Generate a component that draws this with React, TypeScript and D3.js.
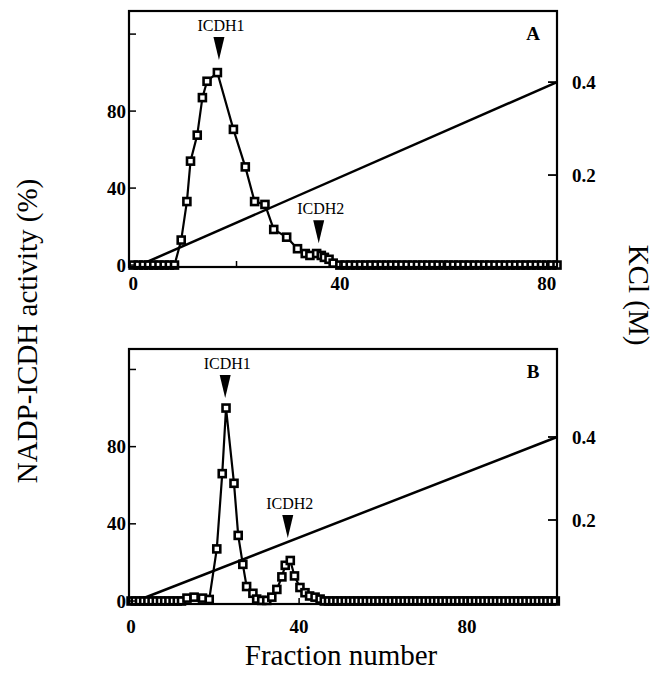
import React from "react";
import * as d3 from "d3";

// ---------- Data ----------
const A_FRACTION = [
  0, 1, 2, 3, 4, 5, 6, 7, 8,
  9.3, 10.4, 11.1, 12.4, 13.4, 14.3, 16.3, 19.4, 21.7, 23.5, 25.5, 27.2, 29.7, 31.8, 33.3, 34.2, 35.5, 36.4, 37, 37.9, 38.7,
  40, 41, 42, 43, 44, 45, 46, 47, 48, 49, 50, 51, 52, 53, 54, 55, 56, 57, 58, 59, 60, 61,
  62, 63, 64, 65, 66, 67, 68, 69, 70, 71, 72, 73, 74, 75, 76, 77, 78, 79, 80, 81, 82,
];
const A_ACTIVITY = [
  0, 0, 0, 0, 0, 0, 0, 0, 0,
  13, 33, 54, 67.5, 87, 95.5, 100, 70.5, 51, 33, 31.5, 18.5, 14.5, 8.5, 6, 5, 6, 5, 4, 3, 1,
  0, 0, 0, 0, 0, 0, 0, 0, 0, 0, 0, 0, 0, 0, 0, 0, 0, 0, 0, 0, 0, 0,
  0, 0, 0, 0, 0, 0, 0, 0, 0, 0, 0, 0, 0, 0, 0, 0, 0, 0, 0, 0, 0, 0, 0,
];
const A_GRADIENT_FRACTION = [0, 82];
const A_GRADIENT_KCL = [0, 0.4];

const B_FRACTION = [
  0, 1, 2, 3, 4, 5, 6, 7, 8, 9, 10, 11, 12,
  13.3, 15, 17, 18.6,
  20.4, 21.7, 22.6, 24.5, 25.5, 26.6, 27.5, 29, 29.9, 31.1, 32.3, 33.5, 34.7, 35.9, 36.7, 37.9, 38.9, 40.2, 41.4, 42.5, 43.8, 45,
  46, 47, 48, 49, 50, 51, 52, 53, 54, 55, 56, 57, 58, 59, 60, 61, 62, 63, 64, 65, 66, 67, 68, 69, 70, 71, 72, 73,
  74, 75, 76, 77, 78, 79, 80, 81, 82, 83, 84, 85, 86, 87, 88, 89, 90, 91, 92, 93, 94, 95, 96, 97, 98, 99, 100, 101,
];
const B_ACTIVITY = [
  0, 0, 0, 0, 0, 0, 0, 0, 0, 0, 0, 0, 0,
  1.5, 2, 1.5, 0.8,
  27, 66, 100, 61, 34, 19, 7.5, 4, 1, 0.3, 0.3, 2, 6, 12.5, 18.5, 21, 13, 7, 4.3, 2.6, 2, 1,
  0, 0, 0, 0, 0, 0, 0, 0, 0, 0, 0, 0, 0, 0, 0, 0, 0, 0, 0, 0, 0, 0, 0, 0, 0, 0, 0, 0,
  0, 0, 0, 0, 0, 0, 0, 0, 0, 0, 0, 0, 0, 0, 0, 0, 0, 0, 0, 0, 0, 0, 0, 0, 0, 0, 0, 0,
];
const B_GRADIENT_FRACTION = [0, 101.4];
const B_GRADIENT_KCL = [0, 0.4];

// peak markers: label, fraction, activity at arrow tip
const A_PEAK_LABELS = ["ICDH1", "ICDH2"];
const A_PEAK_FRACTION = [16.6, 35.9];
const A_PEAK_TIP = [106.5, 11.4];
const B_PEAK_LABELS = ["ICDH1", "ICDH2"];
const B_PEAK_FRACTION = [22.4, 37.3];
const B_PEAK_TIP = [105.2, 32.6];

const LEFT_TICKS = [0, 40, 80, 120];
const LEFT_TICK_LABELS = ["0", "40", "80", ""];
const RIGHT_TICKS = [0.2, 0.4];
const RIGHT_TICK_LABELS = ["0.2", "0.4"];
const X_TICK_LABELS = [0, 40, 80];
const A_X_TICKS = [20, 40, 60, 80];
const B_X_TICKS = [40, 80];

const SERIF = "Times New Roman";

type PanelProps = {
  letter: string;
  left: number; right: number; top: number; bottom: number;
  xDomain: [number, number];
  yDomain: [number, number];
  kDomain: [number, number];
  kRange: [number, number];
  fraction: number[]; activity: number[];
  gradF: number[]; gradK: number[];
  peakLabels: string[]; peakF: number[]; peakTip: number[];
  xTicks: number[];
  xLabelBaseline: number;
};

function Panel(p: PanelProps) {
  const x = d3.scaleLinear().domain(p.xDomain).range([p.left, p.right]);
  const y = d3.scaleLinear().domain(p.yDomain).range([p.bottom, p.top]);
  const k = d3.scaleLinear().domain(p.kDomain).range(p.kRange);
  const pts = p.fraction.map((f, i) => [f, p.activity[i]] as [number, number]);
  const line = d3.line<[number, number]>().x((d) => x(d[0])).y((d) => y(d[1]));
  const gradPts = p.gradF.map((f, i) => [f, p.gradK[i]] as [number, number]);
  const gline = d3.line<[number, number]>().x((d) => x(d[0])).y((d) => k(d[1]));
  const ms = 7;
  return (
    <g>
      <path d={gline(gradPts) || ""} fill="none" stroke="#000" strokeWidth={2.5} />
      <path d={line(pts) || ""} fill="none" stroke="#000" strokeWidth={2.2} />
      {pts.map((d, i) => (
        <rect key={i} x={x(d[0]) - ms / 2} y={y(d[1]) - ms / 2} width={ms} height={ms}
          fill="#fff" stroke="#000" strokeWidth={2.6} />
      ))}
      <rect x={p.left} y={p.top} width={p.right - p.left} height={p.bottom - p.top}
        fill="none" stroke="#000" strokeWidth={2.2} />
      {LEFT_TICKS.map((t, i) => (
        <g key={"l" + i}>
          <line x1={p.left} x2={p.left + 7} y1={y(t)} y2={y(t)} stroke="#000" strokeWidth={1.5} />
          <text x={p.left - 3} y={y(t)} dy="0.35em" textAnchor="end" fontFamily={SERIF}
            fontWeight="bold" fontSize={19}>{LEFT_TICK_LABELS[i]}</text>
        </g>
      ))}
      {RIGHT_TICKS.map((t, i) => (
        <g key={"r" + i}>
          <line x1={p.right} x2={p.right - 9} y1={k(t)} y2={k(t)} stroke="#000" strokeWidth={1.8} />
          <text x={p.right + 15} y={k(t)} dy="0.35em" textAnchor="start" fontFamily={SERIF}
            fontWeight="bold" fontSize={19}>{RIGHT_TICK_LABELS[i]}</text>
        </g>
      ))}
      {p.xTicks.map((t, i) => (
        <line key={"b" + i} x1={x(t)} x2={x(t)} y1={p.bottom} y2={p.bottom - 6} stroke="#000" strokeWidth={1.5} />
      ))}
      {X_TICK_LABELS.map((t, i) => (
        <text key={"bl" + i} x={x(t)} y={p.xLabelBaseline} textAnchor="middle" fontFamily={SERIF}
          fontWeight="bold" fontSize={19}>{t}</text>
      ))}
      {p.peakLabels.map((lab, i) => {
        const cx = x(p.peakF[i]);
        const tip = y(p.peakTip[i]);
        const h = 23, w = 11;
        return (
          <g key={"pk" + i}>
            <path d={`M${cx - w / 2},${tip - h}L${cx + w / 2},${tip - h}L${cx},${tip}Z`} fill="#000" />
            <text x={cx + 2} y={tip - h - 6} textAnchor="middle" fontFamily={SERIF} fontSize={16}>{lab}</text>
          </g>
        );
      })}
      <text x={p.right - 24} y={p.top + 29} textAnchor="middle" fontFamily={SERIF} fontWeight="bold"
        fontSize={19}>{p.letter}</text>
    </g>
  );
}

export default function App() {
  return (
    <svg width={665} height={674} style={{ position: "absolute", left: 0, top: 0, background: "#fff" }}>
      <rect width={665} height={674} fill="#fff" />
      <Panel letter="A" left={129} right={557} top={11} bottom={267}
        xDomain={[-0.8, 82]} yDomain={[-1, 132]} kDomain={[0, 0.553]} kRange={[268, 11]}
        fraction={A_FRACTION} activity={A_ACTIVITY} gradF={A_GRADIENT_FRACTION} gradK={A_GRADIENT_KCL}
        peakLabels={A_PEAK_LABELS} peakF={A_PEAK_FRACTION} peakTip={A_PEAK_TIP}
        xTicks={A_X_TICKS} xLabelBaseline={290} />
      <Panel letter="B" left={129} right={557} top={349} bottom={604}
        xDomain={[-0.5, 101.4]} yDomain={[-1.55, 130.6]} kDomain={[-0.0024, 0.612]} kRange={[604, 349]}
        fraction={B_FRACTION} activity={B_ACTIVITY} gradF={B_GRADIENT_FRACTION} gradK={B_GRADIENT_KCL}
        peakLabels={B_PEAK_LABELS} peakF={B_PEAK_FRACTION} peakTip={B_PEAK_TIP}
        xTicks={B_X_TICKS} xLabelBaseline={633} />
      <text transform="translate(37,331) rotate(-90)" textAnchor="middle" fontFamily={SERIF} fontSize={29}>
        NADP-ICDH activity (%)
      </text>
      <text transform="translate(629,295) rotate(90)" textAnchor="middle" fontFamily={SERIF} fontSize={29}>
        KCl (M)
      </text>
      <text x={341} y={665} textAnchor="middle" fontFamily={SERIF} fontSize={29}>Fraction number</text>
    </svg>
  );
}
